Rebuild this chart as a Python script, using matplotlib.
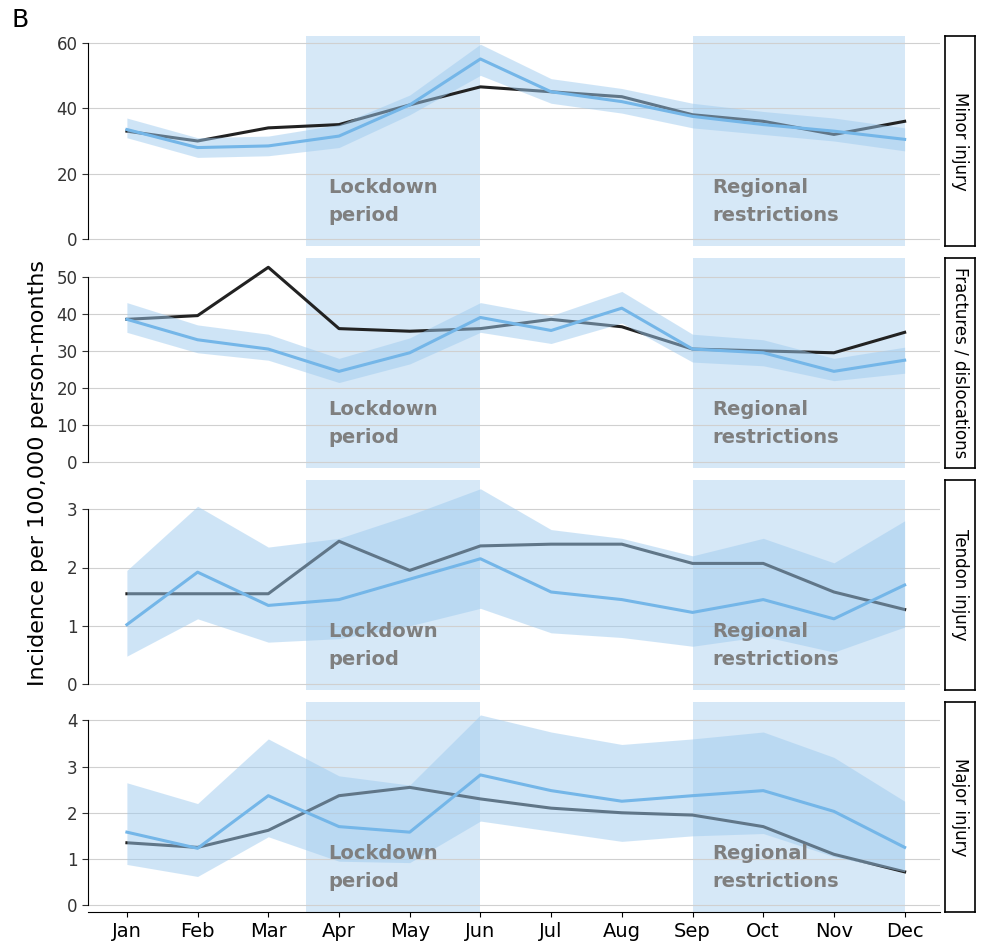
import numpy as np
import matplotlib.pyplot as plt
from matplotlib.transforms import blended_transform_factory

months = ["Jan", "Feb", "Mar", "Apr", "May", "Jun", "Jul", "Aug", "Sep", "Oct", "Nov", "Dec"]
panels = ["Minor injury", "Fractures / dislocations", "Tendon injury", "Major injury"]

observed = [
    [33, 30, 34, 35, 41, 46.5, 45, 43.5, 38, 36, 32, 36],
    [38.5, 39.5, 52.5, 36, 35.3, 36, 38.5, 36.5, 30.5, 30, 29.5, 35],
    [1.55, 1.55, 1.55, 2.45, 1.95, 2.37, 2.4, 2.4, 2.07, 2.07, 1.58, 1.28],
    [1.35, 1.25, 1.62, 2.37, 2.55, 2.3, 2.1, 2.0, 1.95, 1.7, 1.1, 0.72],
]
expected = [
    [33.5, 28, 28.5, 31.5, 41, 55, 45, 42, 37.5, 35, 33, 30.5],
    [38.5, 33, 30.5, 24.5, 29.5, 39, 35.5, 41.5, 30.5, 29.5, 24.5, 27.5],
    [1.02, 1.92, 1.35, 1.45, 1.8, 2.15, 1.58, 1.45, 1.23, 1.45, 1.12, 1.7],
    [1.58, 1.23, 2.37, 1.7, 1.58, 2.82, 2.48, 2.25, 2.37, 2.48, 2.03, 1.25],
]
lower = [
    [31, 25, 25.5, 28, 38, 50, 41.5, 38.5, 34, 32, 30, 27],
    [35, 29.5, 27.5, 21.5, 26.5, 35, 32, 37.5, 27, 26, 22, 24],
    [0.48, 1.12, 0.72, 0.78, 1.0, 1.3, 0.88, 0.8, 0.65, 0.82, 0.55, 0.98],
    [0.88, 0.62, 1.48, 0.95, 0.92, 1.82, 1.6, 1.38, 1.5, 1.55, 1.05, 0.72],
]
upper = [
    [37, 31, 31.5, 35, 44, 59.5, 49, 46, 41.5, 39, 37, 34],
    [43, 37, 34.5, 28, 33.5, 43, 39.5, 46, 34.5, 33, 28, 31],
    [1.95, 3.05, 2.35, 2.5, 2.9, 3.35, 2.65, 2.5, 2.2, 2.5, 2.08, 2.8],
    [2.65, 2.2, 3.6, 2.8, 2.6, 4.12, 3.75, 3.48, 3.6, 3.75, 3.2, 2.25],
]
yticks = [[0, 20, 40, 60], [0, 10, 20, 30, 40, 50], [0, 1, 2, 3], [0, 1, 2, 3, 4]]
ylims = [(-2, 62), (-1.5, 55), (-0.1, 3.5), (-0.15, 4.4)]
lockdown = (2.53, 5)
regional = (8, 11)

fig = plt.figure(figsize=(9.82, 9.47), dpi=100)
W, H = 982, 947
left, right = 88, 940
tops = [36, 258, 480, 702]
ph = 210
x = np.arange(len(months))

for i in range(4):
    ax = fig.add_axes([left / W, 1 - (tops[i] + ph) / H, (right - left) / W, ph / H])
    ax.axvspan(*lockdown, color="#d6e8f7", lw=0, zorder=0)
    ax.axvspan(*regional, color="#d6e8f7", lw=0, zorder=0)
    ax.set_yticks(yticks[i])
    ax.set_ylim(*ylims[i])
    ax.grid(axis="y", color="#d0d0d0", lw=0.8, zorder=0.5)
    ax.set_axisbelow(True)
    ax.plot(x, observed[i], color="#222222", lw=2.2, zorder=2)
    ax.fill_between(x, lower[i], upper[i], color="#9fcbef", alpha=0.5, lw=0, zorder=3)
    ax.plot(x, expected[i], color="#74b6e8", lw=2.2, zorder=4)
    ax.set_xlim(-0.55, 11.5)
    for s in ["top", "right"]:
        ax.spines[s].set_visible(False)
    ax.spines["left"].set_bounds(yticks[i][0], yticks[i][-1])
    ax.tick_params(axis="y", labelsize=12, colors="#333333", length=4)
    if i < 3:
        ax.spines["bottom"].set_visible(False)
        ax.set_xticks([])
    else:
        ax.set_xticks(x)
        ax.set_xticklabels(months, fontsize=14)
        ax.spines["bottom"].set_bounds(-0.55, 11.5)
    tr = blended_transform_factory(ax.transData, ax.transAxes)
    ax.text(2.85, 0.21, "Lockdown\nperiod", transform=tr, fontsize=14, fontweight="bold",
            color="#7f7f7f", va="center", ha="left", linespacing=1.6)
    ax.text(8.28, 0.21, "Regional\nrestrictions", transform=tr, fontsize=14, fontweight="bold",
            color="#7f7f7f", va="center", ha="left", linespacing=1.6)
    sax = fig.add_axes([945 / W, 1 - (tops[i] + ph) / H, 30 / W, ph / H])
    sax.set_xticks([])
    sax.set_yticks([])
    for s in sax.spines.values():
        s.set_linewidth(1.2)
    sax.text(0.5, 0.5, panels[i], rotation=-90, ha="center", va="center", fontsize=12,
             transform=sax.transAxes)

fig.text(38 / W, 0.5, "Incidence per 100,000 person-months", rotation=90, ha="center",
         va="center", fontsize=16)
fig.text(12 / W, 1 - 20 / H, "B", fontsize=18, ha="left", va="center")
fig.savefig("out.png", dpi=100)
